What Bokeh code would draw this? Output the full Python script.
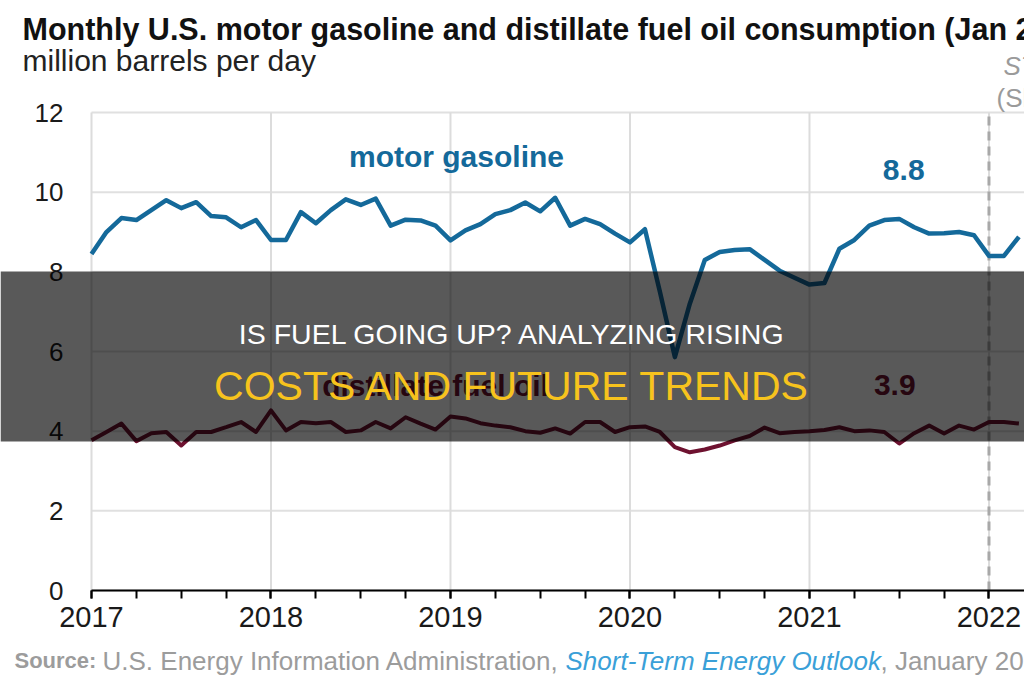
from bokeh.plotting import figure
from bokeh.models import Range1d, FixedTicker, Label, BoxAnnotation
from bokeh.embed import file_html
from bokeh.resources import INLINE

# Monthly consumption, million barrels per day, Jan 2017 - Mar 2022
years = ["2017", "2018", "2019", "2020", "2021", "2022"]
gasoline = [
    8.45, 9.0, 9.35, 9.3, 9.55, 9.8, 9.6, 9.75, 9.4, 9.37, 9.12, 9.3,      # 2017
    8.8, 8.8, 9.5, 9.22, 9.55, 9.82, 9.68, 9.84, 9.16, 9.31, 9.29, 9.16,   # 2018
    8.79, 9.04, 9.2, 9.45, 9.55, 9.74, 9.52, 9.86, 9.16, 9.33, 9.2, 8.96,  # 2019
    8.74, 9.07, 7.5, 5.86, 7.2, 8.3, 8.5, 8.55, 8.57, 8.3, 8.03, 7.85,     # 2020
    7.68, 7.72, 8.58, 8.8, 9.16, 9.3, 9.33, 9.12, 8.96, 8.97, 9.0, 8.92,   # 2021
    8.4, 8.4, 8.88,                                                        # 2022
]
distillate = [
    3.77, 3.98, 4.19, 3.75, 3.95, 3.98, 3.64, 3.98, 3.98, 4.1, 4.23, 3.98,
    4.52, 4.02, 4.23, 4.2, 4.23, 3.98, 4.02, 4.23, 4.07, 4.35, 4.19, 4.04,
    4.37, 4.32, 4.2, 4.14, 4.1, 4.0, 3.96, 4.07, 3.94, 4.23, 4.23, 3.98,
    4.1, 4.12, 3.98, 3.6, 3.47, 3.54, 3.64, 3.77, 3.88, 4.09, 3.95, 3.98,
    4.0, 4.03, 4.1, 4.0, 4.02, 3.98, 3.69, 3.95, 4.14, 3.94, 4.14, 4.04,
    4.23, 4.23, 4.19,
]
months = list(range(len(gasoline)))
year_ticks = [12 * i for i in range(len(years))]
quarter_ticks = list(range(0, 63, 3))
y_ticks = [0, 2, 4, 6, 8, 10, 12]
forecast_start = 60
gasoline_callout = 8.8
distillate_callout = 3.9

FONT = "Liberation Sans"
BLUE = "#14699a"
MAROON = "#6e1230"
GRID = "#e0e0e0"

# The plotting frame fills the whole canvas; the axes are pinned at x=0 / y=0
# so the headings, source line and banner can share the same drawing area.
W, H = 1024, 680
PX_PER_MONTH = 14.958
PX_PER_UNIT = 39.83
X0_PX, Y0_PX = 91, 590          # canvas position of (Jan 2017, 0)
x_lo = -X0_PX / PX_PER_MONTH
x_hi = (W - X0_PX) / PX_PER_MONTH
y_lo = -(H - Y0_PX) / PX_PER_UNIT
y_hi = Y0_PX / PX_PER_UNIT

p = figure(width=W, height=H, output_backend="svg", toolbar_location=None,
           x_range=Range1d(x_lo, x_hi), y_range=Range1d(y_lo, y_hi),
           min_border=0)
p.outline_line_color = None
p.background_fill_color = "white"
p.border_fill_color = "white"
p.grid.visible = False

# gridlines
p.segment(x0=[0] * len(y_ticks), y0=y_ticks, x1=[x_hi] * len(y_ticks), y1=y_ticks,
          line_color=GRID, line_width=2)
p.segment(x0=year_ticks, y0=[0] * len(year_ticks), x1=year_ticks,
          y1=[max(y_ticks)] * len(year_ticks), line_color="#dcdcdc", line_width=2)

# forecast divider
p.segment(x0=[forecast_start], y0=[0], x1=[forecast_start], y1=[max(y_ticks)],
          line_color="#a8a8a8", line_dash="9 6", line_width=3)

# axes
p.xaxis.fixed_location = 0
p.xaxis.bounds = (0, x_hi)
p.xaxis.ticker = FixedTicker(ticks=year_ticks, minor_ticks=quarter_ticks)
p.xaxis.major_label_overrides = {t: y for t, y in zip(year_ticks, years)}
p.xaxis.axis_line_color = "black"
p.xaxis.axis_line_width = 2
p.xaxis.major_tick_line_color = "black"
p.xaxis.major_tick_line_width = 2
p.xaxis.major_tick_in = 0
p.xaxis.major_tick_out = 8
p.xaxis.minor_tick_line_color = "black"
p.xaxis.minor_tick_line_width = 2
p.xaxis.minor_tick_in = 0
p.xaxis.minor_tick_out = 8
p.xaxis.major_label_text_font = FONT
p.xaxis.major_label_text_font_size = "29px"
p.xaxis.major_label_text_color = "#1a1a1a"
p.xaxis.major_label_standoff = 8

p.yaxis.fixed_location = 0
p.yaxis.bounds = (0, max(y_ticks))
p.yaxis.ticker = FixedTicker(ticks=y_ticks)
p.yaxis.axis_line_color = None
p.yaxis.major_tick_line_color = None
p.yaxis.minor_tick_line_color = None
p.yaxis.major_tick_out = 0
p.yaxis.major_tick_in = 0
p.yaxis.major_label_text_font = FONT
p.yaxis.major_label_text_font_size = "26px"
p.yaxis.major_label_text_color = "#1a1a1a"
p.yaxis.major_label_standoff = 28

# series
p.line(months, distillate, line_width=4, line_color=MAROON, line_join="round")
p.line(months, gasoline, line_width=4.5, line_color=BLUE, line_join="round")

# series labels
def data_label(x, y, text, color):
    p.add_layout(Label(x=x, y=y, text=text, text_font=FONT, text_font_size="30px",
                       text_font_style="bold", text_color=color,
                       text_align="center", text_baseline="middle"))

data_label(24.4, 10.9, "motor gasoline", BLUE)
data_label(54.3, 10.55, f"{gasoline_callout:.1f}", BLUE)
data_label(23.0, 5.15, "distillate fuel oil", MAROON)
data_label(53.7, 5.15, f"{distillate_callout:.1f}", MAROON)

# headings and source (screen offsets: x from the left edge, y from the top edge)
def screen_label(x, y_top, text, size, color, style="normal", align="left", level="annotation"):
    lab = Label(x=x, y=H - y_top, x_units="screen", y_units="screen", text=text,
                text_font=FONT, text_font_size=size, text_font_style=style,
                text_color=color, text_align=align, text_baseline="middle", level=level)
    p.add_layout(lab)
    return lab

screen_label(22, 28, "Monthly U.S. motor gasoline and distillate fuel oil consumption (Jan 2017\u2013Mar 2023)",
             "30.5px", "#111111", style="bold")
screen_label(22, 60, "million barrels per day", "30px", "#222222")
screen_label(1003, 65, "STEO forecast", "26px", "#9a9a9a", style="italic")
screen_label(996, 97, "(Short-Term Energy Outlook)", "26px", "#9a9a9a")

SRC_GRAY = "#9c9c9c"
screen_label(14, 660, "Source:", "22px", SRC_GRAY, style="bold")
screen_label(102, 660, "U.S. Energy Information Administration,", "26px", SRC_GRAY)
screen_label(565, 660, "Short-Term Energy Outlook", "26px", "#3aa0d8", style="italic")
screen_label(880, 660, ", January 2022", "26px", SRC_GRAY)

# headline banner across the chart
p.add_layout(BoxAnnotation(left=0, right=W, bottom=H - 441, top=H - 271,
                           left_units="screen", right_units="screen",
                           bottom_units="screen", top_units="screen",
                           fill_color="black", fill_alpha=0.65, line_color=None,
                           level="overlay"))
screen_label(W / 2, 333, "IS FUEL GOING UP? ANALYZING RISING", "28.5px", "#ffffff",
             align="center", level="overlay")
screen_label(W / 2, 385, "COSTS AND FUTURE TRENDS", "41px", "#f7c31d",
             align="center", level="overlay")

open("out.html", "w").write(file_html(p, INLINE))
